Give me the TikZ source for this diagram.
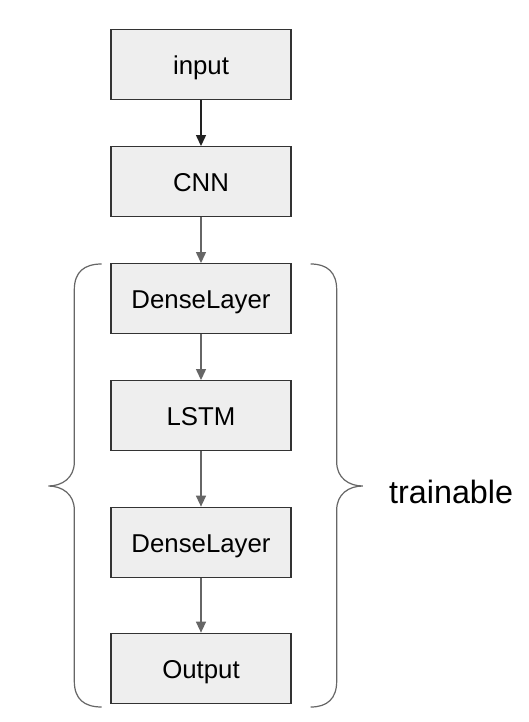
\documentclass[tikz,border=0pt]{standalone}
\usepackage{fontspec}
\setmainfont{Liberation Sans}
\usetikzlibrary{arrows.meta}
\definecolor{boxfill}{HTML}{EEEEEE}
\definecolor{boxline}{HTML}{333333}
\definecolor{darkarrow}{HTML}{222222}
\definecolor{grayarrow}{HTML}{666666}
\definecolor{bracegray}{HTML}{666666}
\begin{document}
\begin{tikzpicture}[x=1pt,y=-1pt,
  layerbox/.style={draw=boxline, fill=boxfill, line width=1.3pt, minimum width=180pt,
    minimum height=70pt, inner sep=0pt, text height=20.5pt, text depth=0pt,
    font=\fontsize{25.8}{30}\selectfont},
  flow/.style={line width=1.3pt, -{Triangle[length=11pt,width=10pt]}},
  bracepath/.style={draw=bracegray, line width=1.2pt},
]
\useasboundingbox (0,0) rectangle (528,722);
\fill[white] (0,0) rectangle (528,722);

\node[layerbox] (input) at (201,64.7) {input};
\node[layerbox] (cnn) at (201,181.7) {CNN};
\node[layerbox] (dense1) at (201,298.7) {DenseLayer};
\node[layerbox] (lstm) at (201,415.7) {LSTM};
\node[layerbox] (dense2) at (201,542.3) {DenseLayer};
\node[layerbox] (output) at (201,668.3) {Output};

\draw[flow, draw=darkarrow, fill=darkarrow] (input) -- (cnn);
\draw[flow, draw=grayarrow, fill=grayarrow] (cnn) -- (dense1);
\draw[flow, draw=grayarrow, fill=grayarrow] (dense1) -- (lstm);
\draw[flow, draw=grayarrow, fill=grayarrow] (lstm) -- (dense2);
\draw[flow, draw=grayarrow, fill=grayarrow] (dense2) -- (output);

\draw[bracepath] (101.7,264) .. controls (84,264) and (74.3,272) .. (74.3,290)
  -- (74.3,462) .. controls (74.3,478) and (62,486) .. (48.3,486)
  .. controls (62,486) and (74.3,494) .. (74.3,510)
  -- (74.3,681) .. controls (74.3,699) and (84,707) .. (101.7,707);
\draw[bracepath] (310.7,264) .. controls (327,264) and (336.7,272) .. (336.7,290)
  -- (336.7,462) .. controls (336.7,478) and (349,486) .. (362.7,486)
  .. controls (349,486) and (336.7,494) .. (336.7,510)
  -- (336.7,681) .. controls (336.7,699) and (327,707) .. (310.7,707);

\node[anchor=base west, inner sep=0pt, font=\fontsize{32.3}{38}\selectfont] (trainable) at (389,503.3) {trainable};
\end{tikzpicture}
\end{document}
